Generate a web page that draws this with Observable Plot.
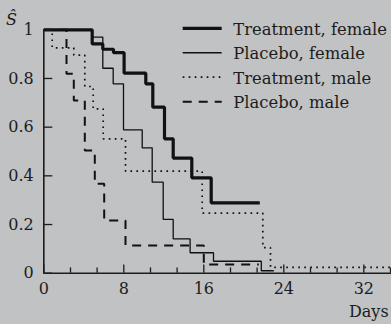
<!DOCTYPE html>
<html><head><meta charset="utf-8">
<script src="https://cdn.jsdelivr.net/npm/d3@7"></script>
<script src="https://cdn.jsdelivr.net/npm/@observablehq/plot@0.6"></script>
<style>
html,body{margin:0;padding:0;background:#c1c2c4;}
#chart{width:391px;height:324px;overflow:hidden;}
</style></head><body><div id="chart"></div>
<script>
// Series names (legend order)
const seriesNames = ["Treatment, female", "Placebo, female", "Treatment, male", "Placebo, male"];

// Kaplan–Meier step data (days, survival)
const tfDays = [0, 4.84, 5.9, 6.97, 8.03, 10.2, 10.9, 12.07, 12.94, 14.8, 16.74, 21.6];
const tfSurv = [1, 0.942, 0.92, 0.906, 0.822, 0.778, 0.682, 0.552, 0.473, 0.392, 0.289, 0.289];

const pfDays = [0, 4.84, 5.9, 6.94, 7.97, 9.84, 10.84, 11.94, 12.94, 14.63, 16.97, 21.75, 23.0];
const pfSurv = [1, 0.97, 0.842, 0.778, 0.589, 0.515, 0.374, 0.221, 0.141, 0.084, 0.049, 0.01, 0.01];

const tmDays = [0, 0.84, 3.0, 4.1, 4.94, 5.94, 8.17, 15.84, 21.9, 22.67, 34.7];
const tmSurv = [1, 0.926, 0.896, 0.767, 0.675, 0.552, 0.419, 0.247, 0.105, 0.024, 0.024];

const pmDays = [0, 2.27, 3.0, 4.1, 5.1, 6.04, 8.17, 16.0, 21.5];
const pmSurv = [1, 0.819, 0.71, 0.504, 0.367, 0.217, 0.114, 0.036, 0.036];

// Tick values
const xTicks = [0, 8, 16, 24, 32];
const xMinorTicks = [2.67, 5.33, 10.67, 13.33, 18.67, 21.33, 26.67, 29.33, 34.67];
const yTicks = [0, 0.2, 0.4, 0.6, 0.8, 1];

const toRows = (days, surv) => days.map((d, i) => ({day: d, surv: surv[i]}));
const series = [
  {name: seriesNames[0], rows: toRows(tfDays, tfSurv), width: 3.2, dash: null},
  {name: seriesNames[1], rows: toRows(pfDays, pfSurv), width: 1.3, dash: null},
  {name: seriesNames[2], rows: toRows(tmDays, tmSurv), width: 1.7, dash: "1.7 4.3"},
  {name: seriesNames[3], rows: toRows(pmDays, pmSurv), width: 2, dash: "9 7"}
];

const drawOrder = [3, 2, 1, 0];
const W = 391, H = 324, mL = 43.3, mR = 0, mT = 29.3, mB = 51.3;
const frameW = W - mL - mR, frameH = H - mT - mB;
const ink = "#1c1c1c";

const svg = Plot.plot({
  width: W,
  height: H,
  marginLeft: mL,
  marginRight: mR,
  marginTop: mT,
  marginBottom: mB,
  style: {background: "#c1c2c4", fontFamily: "'DejaVu Serif', serif", fontSize: "16px", color: ink},
  x: {domain: [0, 34.77], axis: null},
  y: {domain: [0, 1], axis: null},
  marks: [
    ...drawOrder.map(i => Plot.line(series[i].rows, {
      x: "day", y: "surv", curve: "step-after",
      stroke: "#111", strokeWidth: series[i].width,
      strokeDasharray: series[i].dash, strokeLinecap: "butt", strokeLinejoin: "miter"
    })),
    // inward tick marks
    Plot.tickY(yTicks, {y: d => d, stroke: ink, strokeWidth: 1.3, insetRight: frameW - 9}),
    Plot.tickX(xTicks, {x: d => d, stroke: ink, strokeWidth: 1.3, insetTop: frameH - 8.3}),
    Plot.tickX(xMinorTicks, {x: d => d, stroke: ink, strokeWidth: 1.3, insetTop: frameH - 5.3}),
    // tick labels
    Plot.axisY({ticks: yTicks, tickSize: 0, tickPadding: 10, tickFormat: d => `${d}`,
      fontSize: 16, fill: ink, label: null}),
    Plot.axisX({ticks: xTicks, tickSize: 0, tickPadding: 9, tickFormat: d => `${d}`,
      fontSize: 16, fill: ink, label: null}),
    Plot.ruleX([0], {stroke: ink, strokeWidth: 1.6}),
    Plot.ruleY([0], {stroke: ink, strokeWidth: 1.6})
  ]
});

// Legend and axis titles overlay
const g = d3.select(svg).append("g")
  .attr("font-family", "'DejaVu Serif', serif").attr("fill", ink).attr("text-anchor", "start");
series.forEach((s, i) => {
  const y = 28.3 + i * 24.45;
  g.append("line").attr("x1", 182.7).attr("x2", 221.7).attr("y1", y).attr("y2", y)
    .attr("stroke", "#111").attr("stroke-width", s.width)
    .attr("stroke-dasharray", s.dash).attr("stroke-linecap", "butt");
  g.append("text").attr("x", 233.3).attr("y", y + 6.4).attr("font-size", 16.4).text(s.name);
});
g.append("text").attr("x", 6).attr("y", 25).attr("font-size", 16).attr("font-style", "italic").text("Ŝ");
g.append("text").attr("x", 349).attr("y", 316.7).attr("font-size", 16).text("Days");

document.getElementById("chart").appendChild(svg);
</script></body></html>
